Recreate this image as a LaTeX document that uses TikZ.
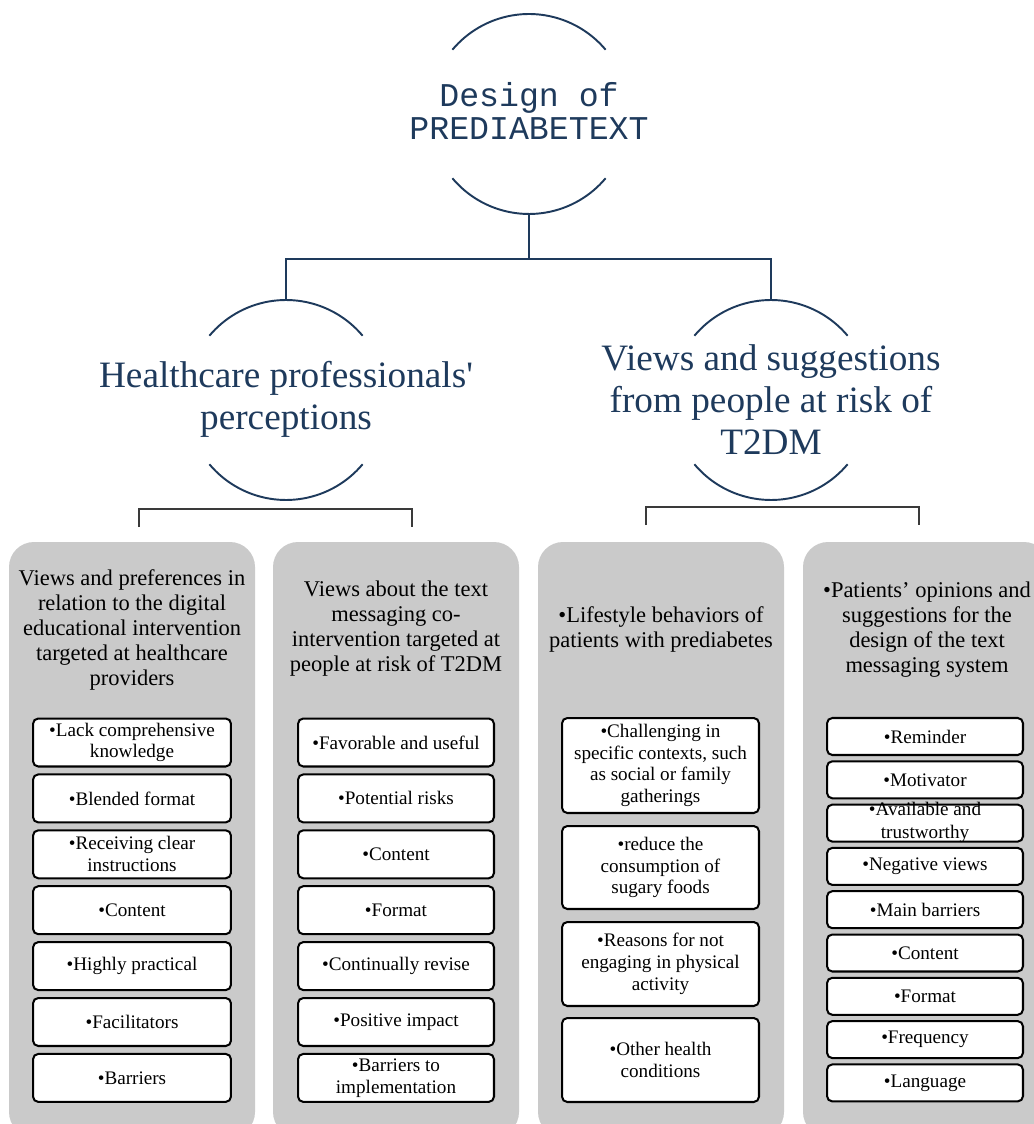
\documentclass[tikz,border=0pt]{standalone}
\usepackage{fontspec}
\setmainfont{Liberation Serif}
\setmonofont{Liberation Mono}
\definecolor{navy}{HTML}{1E3A5C}
\definecolor{panelgray}{HTML}{CACACA}
\definecolor{bracketgray}{HTML}{3A3A3A}
\newcommand\blt{\textbullet}
\newcommand\hubfont{\fontsize{21.2}{23.9}\selectfont}
\newcommand\headfont{\fontsize{12.8}{14.2}\selectfont}
\newcommand\itemfont{\fontsize{10.9}{12.4}\selectfont}

\begin{document}
\begin{tikzpicture}[x=0.02cm,y=-0.02cm,
  hub/.style={circle, minimum size=4cm, inner sep=0pt, outer sep=0pt},
  hubtext/.style={align=center, text=navy, font=\hubfont, inner sep=0pt},
  rim/.style={draw=navy, line width=1.1pt},
  link/.style={draw=navy, line width=1.1pt},
  bracket/.style={draw=bracketgray, line width=1.2pt},
  panel/.style={fill=panelgray, rounded corners=0.5cm},
  head/.style={align=center, font=\headfont, inner sep=0pt},
  item/.style={draw=black, line width=1.15pt, fill=white, rounded corners=3pt,
    align=center, inner sep=0pt, font=\itemfont},
  itemA/.style={item, minimum width=3.96cm, minimum height=0.96cm},
  itemB/.style={item, minimum width=3.92cm, minimum height=0.96cm},
  itemC/.style={item, minimum width=3.94cm},
  itemD/.style={item, minimum width=3.92cm, minimum height=0.74cm},
]
\useasboundingbox (0,0) rectangle (1033,1124);

% ---- circular headings ----
\node[hub] (top) at (529,114) {};
\node[hubtext, font=\ttfamily\fontsize{18.9}{18.8}\selectfont] (toptext) at (529,111) {Design of\\PREDIABETEXT};
\node[hub] (hcp) at (286,400) {};
\node[hubtext] (hcptext) at (286,399) {Healthcare professionals\textquotesingle\\perceptions};
\node[hub] (risk) at (771,400) {};
\node[hubtext] (risktext) at (771,400) {Views and suggestions\\from people at risk of\\T2DM};

\foreach \h in {top,hcp,risk} {
  \draw[rim] (\h.40) arc[start angle=40, end angle=140, radius=2cm];
  \draw[rim] (\h.220) arc[start angle=220, end angle=320, radius=2cm];
}

% ---- tree connectors ----
\coordinate (junc) at (529,259);
\draw[link] (top.south) -- (junc);
\draw[link] (hcp.north) |- (junc) -| (risk.north);

% ---- brackets over the panels ----
\coordinate (bL1) at (139,527); \coordinate (bL2) at (412,527);
\coordinate (bR1) at (646,525); \coordinate (bR2) at (919,525);
\draw[bracket] (bL1) -- ++(0,-18) -| (bL2);
\draw[bracket] (bR1) -- ++(0,-18) -| (bR2);

% ---- grey panels ----
\foreach \x in {9,273,538,803}
  \fill[panel] (\x,542) rectangle ++(246,595);

% ---- panel 1 ----
\node[head] (p1head) at (132,630) {Views and preferences in\\relation to the digital\\educational intervention\\targeted at healthcare\\providers};
\node[itemA] (p1a) at (132,742.5) {\blt Lack comprehensive\\knowledge};
\node[itemA] (p1b) at (132,798.4) {\blt Blended format};
\node[itemA] (p1c) at (132,854.3) {\blt Receiving clear\\instructions};
\node[itemA] (p1d) at (132,910.2) {\blt Content};
\node[itemA] (p1e) at (132,966.1) {\blt Highly practical};
\node[itemA] (p1f) at (132,1022) {\blt Facilitators};
\node[itemA] (p1g) at (132,1077.9) {\blt Barriers};

% ---- panel 2 ----
\node[head] (p2head) at (396,629) {Views about the text\\messaging co-\\intervention targeted at\\people at risk of T2DM};
\node[itemB] (p2a) at (396,742.5) {\blt Favorable and useful};
\node[itemB] (p2b) at (396,798.4) {\blt Potential risks};
\node[itemB] (p2c) at (396,854.3) {\blt Content};
\node[itemB] (p2d) at (396,910.2) {\blt Format};
\node[itemB] (p2e) at (396,966.1) {\blt Continually revise};
\node[itemB] (p2f) at (396,1022) {\blt Positive impact};
\node[itemB] (p2g) at (396,1077.9) {\blt Barriers to\\implementation};

% ---- panel 3 ----
\node[head] (p3head) at (661,629.5) {\blt Lifestyle behaviors of\\patients with prediabetes};
\node[itemC, minimum height=1.9cm] (p3a) at (660.5,765.5) {\blt Challenging in\\specific contexts, such\\as social or family\\gatherings};
\node[itemC, minimum height=1.66cm] (p3b) at (660.5,867.5) {\blt reduce the\\consumption of\\sugary foods};
\node[itemC, minimum height=1.68cm] (p3c) at (660.5,964) {\blt Reasons for not\\engaging in physical\\activity};
\node[itemC, minimum height=1.68cm] (p3d) at (660.5,1060) {\blt Other health\\conditions};

% ---- panel 4 ----
\node[head] (p4head) at (927,630) {\blt Patients' opinions and\\suggestions for the\\design of the text\\messaging system};
\node[itemD] (p4a) at (925,736.5) {\blt Reminder};
\node[itemD] (p4b) at (925,779.8) {\blt Motivator};
\node[itemD] (p4c) at (925,823.1) {\raisebox{-4.8pt}{\smash{\fontsize{10.9}{12.8}\selectfont\begin{tabular}{@{}c@{}}\blt Available and\\trustworthy\end{tabular}}}};
\node[itemD] (p4d) at (925,866.4) {\blt Negative views};
\node[itemD] (p4e) at (925,909.7) {\blt Main barriers};
\node[itemD] (p4f) at (925,953) {\blt Content};
\node[itemD] (p4g) at (925,996.3) {\blt Format};
\node[itemD] (p4h) at (925,1039.6) {\blt Frequency};
\node[itemD] (p4i) at (925,1082.9) {\blt Language};
\end{tikzpicture}
\end{document}
